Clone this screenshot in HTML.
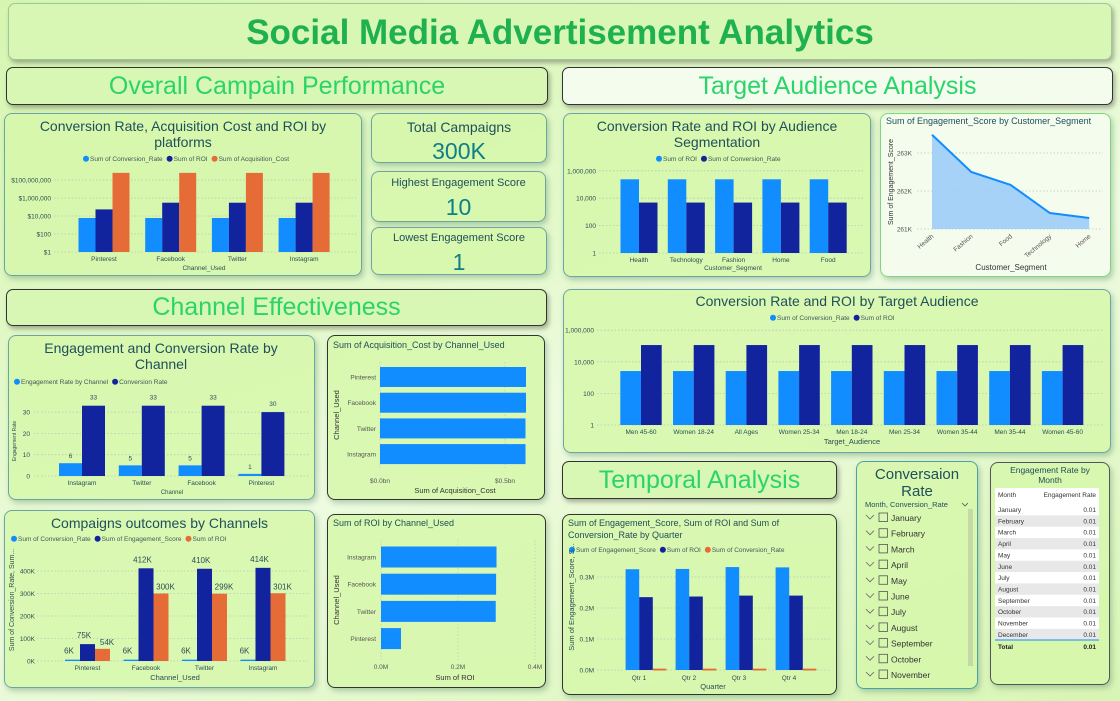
<!DOCTYPE html>
<html><head><meta charset="utf-8">
<style>
*{box-sizing:border-box;margin:0;padding:0}
body{width:1120px;height:701px;overflow:hidden;font-family:"Liberation Sans",sans-serif;background:linear-gradient(160deg,#d6f6b0 0%,#e4f9cc 40%,#eefbe0 55%,#d8f5b4 100%);position:relative}
.p{position:absolute;border:1px solid #6fa4a4;border-radius:8px;background:rgba(214,247,170,0.85);box-shadow:2px 3px 6px rgba(60,120,90,0.35)}
.hd{position:absolute;border:1.5px solid #333;border-radius:7px;background:#d8f6b4;color:#2bd46a;text-align:center;box-shadow:2px 3px 5px rgba(0,0,0,0.3)}
.t{position:absolute;color:#20505a;text-align:center;line-height:1.15}
.kv{color:#0f7f85;font-size:23px;display:block;margin-top:4px}
svg text{font-family:"Liberation Sans",sans-serif}
</style></head><body>
<div class="hd" style="left:8px;top:3px;width:1104px;height:57px;border-color:#9bc89b;border-width:1px;color:#1fb04f;font-size:35px;font-weight:bold;line-height:57px">Social Media Advertisement Analytics</div>
<div class="hd" style="left:6px;top:67px;width:542px;height:38px;font-size:25px;line-height:36px">Overall Campain Performance</div>
<div class="hd" style="left:562px;top:67px;width:551px;height:38px;font-size:25px;line-height:36px;background:#f4fcee">Target Audience Analysis</div>
<div class="hd" style="left:6px;top:289px;width:541px;height:37px;font-size:25px;line-height:35px">Channel Effectiveness</div>
<div class="hd" style="left:562px;top:461px;width:275px;height:38px;font-size:25px;line-height:36px">Temporal Analysis</div>

<div class="p" style="left:4px;top:113px;width:358px;height:163px"></div>
<div class="t" style="left:14px;top:118px;width:338px;font-size:14px">Conversion Rate, Acquisition Cost and ROI by platforms</div>

<div class="p" style="left:371px;top:113px;width:176px;height:50px"><div class="t" style="left:0;top:5px;width:174px;font-size:14px">Total Campaigns<span class="kv" style="margin-top:3px">300K</span></div></div>
<div class="p" style="left:371px;top:171px;width:175px;height:51px"><div class="t" style="left:0;top:5px;width:173px;font-size:11px">Highest Engagement Score<span class="kv">10</span></div></div>
<div class="p" style="left:371px;top:227px;width:176px;height:48px"><div class="t" style="left:0;top:4px;width:174px;font-size:11px">Lowest Engagement Score<span class="kv">1</span></div></div>

<div class="p" style="left:563px;top:113px;width:308px;height:164px"></div>
<div class="t" style="left:575px;top:118px;width:284px;font-size:14px">Conversion Rate and ROI by Audience Segmentation</div>

<div class="p" style="left:880px;top:113px;width:231px;height:164px;background:rgba(245,252,240,0.9);border-color:#7fd67f"></div>
<div class="t" style="left:886px;top:116px;width:225px;font-size:9px;text-align:left">Sum of Engagement_Score by Customer_Segment</div>

<div class="p" style="left:563px;top:289px;width:548px;height:164px"></div>
<div class="t" style="left:563px;top:293px;width:548px;font-size:14px">Conversion Rate and ROI by Target Audience</div>

<div class="p" style="left:8px;top:335px;width:307px;height:165px"></div>
<div class="t" style="left:25px;top:340px;width:272px;font-size:14px">Engagement and Conversion Rate by Channel</div>

<div class="p" style="left:327px;top:335px;width:218px;height:165px;border-color:#333"></div>
<div class="t" style="left:333px;top:340px;width:210px;font-size:9px;text-align:left">Sum of Acquisition_Cost by Channel_Used</div>

<div class="p" style="left:4px;top:510px;width:311px;height:178px"></div>
<div class="t" style="left:4px;top:515px;width:311px;font-size:14px">Compaigns outcomes by Channels</div>

<div class="p" style="left:327px;top:514px;width:219px;height:174px;border-color:#333"></div>
<div class="t" style="left:333px;top:518px;width:210px;font-size:9px;text-align:left">Sum of ROI by Channel_Used</div>

<div class="p" style="left:562px;top:514px;width:275px;height:181px;border-color:#333"></div>
<div class="t" style="left:568px;top:518px;width:230px;font-size:9px;text-align:left;line-height:1.3">Sum of Engagement_Score, Sum of ROI and Sum of Conversion_Rate by Quarter</div>

<div class="p" style="left:856px;top:461px;width:122px;height:228px;border-color:#4aa0a8"></div>
<div class="t" style="left:867px;top:466px;width:100px;font-size:15px">Conversaion Rate</div>
<div class="t" style="left:865px;top:501px;width:100px;font-size:7.5px;text-align:left">Month, Conversion_Rate</div>
<div style="position:absolute;left:968px;top:509px;width:5px;height:157px;background:#c5d9a8"></div>

<div class="p" style="left:990px;top:462px;width:120px;height:223px;border-color:#555"></div>
<div class="t" style="left:1000px;top:466px;width:100px;font-size:8.5px">Engagement Rate by Month</div>
<div style="position:absolute;left:995px;top:488px;width:104px;height:151px;background:#fff"></div>

<svg id="s" width="1120" height="701" style="position:absolute;left:0;top:0"></svg>

<script>
// ---- data ----
const platCats=["Pinterest","Facebook","Twitter","Instagram"];
const platConv=[6000,6000,6000,6000];
const platRoi=[54000,300000,299000,301000];
const platAcq=[620000000,620000000,615000000,615000000];
const platTicks=[1,100,10000,1000000,100000000];
const platTickLabels=["$1","$100","$10,000","$1,000,000","$100,000,000"];

const segCats=["Health","Technology","Fashion","Home","Food"];
const segRoi=[240000,240000,240000,240000,240000];
const segConv=[4800,4800,4800,4800,4800];
const segTicks=[1,100,10000,1000000];
const segTickLabels=["1","100","10,000","1,000,000"];

const areaCats=["Health","Fashion","Food","Technology","Home"];
const areaVals=[263.48,262.5,262.16,261.42,261.29];
const areaTicks=[261,262,263];
const areaTickLabels=["261K","262K","263K"];

const taCats=["Men 45-60","Women 18-24","All Ages","Women 25-34","Men 18-24","Men 25-34","Women 35-44","Men 35-44","Women 45-60"];
const taConv=[2600,2600,2600,2600,2600,2600,2600,2600,2600];
const taRoi=[115000,115000,115000,115000,115000,115000,115000,115000,115000];
const taTicks=[1,100,10000,1000000];
const taTickLabels=["1","100","10,000","1,000,000"];

const chCats=["Instagram","Twitter","Facebook","Pinterest"];
const chEng=[6,5,5,1];
const chConv=[33,33,33,30];
const chTicks=[0,10,20,30];

const acqCats=["Pinterest","Facebook","Twitter","Instagram"];
const acqVals=[0.584,0.584,0.582,0.582];
const acqTicks=[0,0.5];
const acqTickLabels=["$0.0bn","$0.5bn"];

const coCats=["Pinterest","Facebook","Twitter","Instagram"];
const coConv=[6,6,6,6];
const coEng=[75,412,410,414];
const coRoi=[54,300,299,301];
const coTicks=[0,100,200,300,400];

const roiCats=["Instagram","Facebook","Twitter","Pinterest"];
const roiVals=[0.300,0.299,0.298,0.052];
const roiTicks=[0,0.2,0.4];
const roiTickLabels=["0.0M","0.2M","0.4M"];

const qCats=["Qtr 1","Qtr 2","Qtr 3","Qtr 4"];
const qEng=[0.325,0.326,0.332,0.331];
const qRoi=[0.235,0.237,0.240,0.240];
const qConv=[0.006,0.006,0.006,0.006];
const qTicks=[0,0.1,0.2,0.3];
const qTickLabels=["0.0M","0.1M","0.2M","0.3M"];

const months=["January","February","March","April","May","June","July","August","September","October","November","December"];
const monthRates=[0.01,0.01,0.01,0.01,0.01,0.01,0.01,0.01,0.01,0.01,0.01,0.01];

const LB="#118dff",DB="#12239e",OR="#e66c37",TX="#2a4f55";
const S=document.getElementById('s');
const NS="http://www.w3.org/2000/svg";
function mk(tag,a){const e=document.createElementNS(NS,tag);for(const k in a)e.setAttribute(k,a[k]);S.appendChild(e);return e;}
function txt(x,y,s,size,fill,anchor,extra){const e=mk('text',Object.assign({x:x,y:y,'font-size':size,fill:fill||TX,'text-anchor':anchor||'middle'},extra||{}));e.textContent=s;return e;}
function grid(x1,x2,y){const g=mk('line',{x1:x1,x2:x2,y1:y,y2:y,stroke:'#b8c8b8','stroke-dasharray':'1.5,2','stroke-width':0.8});}
function legend(x,y,items,fs){let cx=x;fs=fs||6.5;items.forEach(it=>{const c=mk('circle',{cx:cx+3,cy:y-2.3,r:3,fill:it[1]});const t=txt(cx+7,y,it[0],fs,'#405a5a','start');cx+=7+t.getComputedTextLength()+4;});}
function logY(base,ppd){return v=>base-Math.log10(v)*ppd;}
function linY(base,pp){return v=>base-v*pp;}
function bar(x,y,w,h,fill,name){const r=mk('rect',{x:x,y:y,width:w,height:Math.max(h,0),fill:fill});return r;}

// ---- chart 1: platforms (log) ----
(function(){const B=252,y=logY(B,9),x0=54,x1=357;
legend(83,161,[["Sum of Conversion_Rate",LB],["Sum of ROI",DB],["Sum of Acquisition_Cost",OR]]);
platTicks.forEach((t,i)=>{grid(x0,x1,y(t));txt(x0-3,y(t)+2.5,platTickLabels[i],6.5,TX,'end');});
const cx=i=>104+i*66.7,bw=17;
platCats.forEach((c,i)=>{bar(cx(i)-bw*1.5,y(platConv[i]),bw,B-y(platConv[i]),LB,'bar-conversion-'+c);
bar(cx(i)-bw*0.5,y(platRoi[i]),bw,B-y(platRoi[i]),DB,'bar-roi-'+c);
bar(cx(i)+bw*0.5,y(platAcq[i]),bw,B-y(platAcq[i]),OR,'bar-acquisition-'+c);
txt(cx(i),261,c,6.5);});
txt(204,270,"Channel_Used",6.5);})();

// ---- chart 2: segmentation (log) ----
(function(){const B=253,y=logY(B,13.7),x0=599,x1=864;
legend(656,161,[["Sum of ROI",LB],["Sum of Conversion_Rate",DB]]);
segTicks.forEach((t,i)=>{grid(x0,x1,y(t));txt(596,y(t)+2.5,segTickLabels[i],6.5,TX,'end');});
const bw=18.5;
segCats.forEach((c,i)=>{const cx=639+i*47.3;bar(cx-bw,y(segRoi[i]),bw,B-y(segRoi[i]),LB,'bar-roi-'+c);
bar(cx,y(segConv[i]),bw,B-y(segConv[i]),DB,'bar-conversion-'+c);txt(cx,262,c,6.5);});
txt(733,270,"Customer_Segment",6.5);})();

// ---- chart 3: area ----
(function(){const B=229,y=v=>B-(v-261)*38,x0=917,x1=1103;
areaTicks.forEach((t,i)=>{grid(x0,x1,y(t));txt(912,y(t)+2.5,areaTickLabels[i],6.5,'#555','end');});
const px=i=>932+i*39.3;let d='';
areaVals.forEach((v,i)=>{d+=(i?'L':'M')+px(i)+','+y(v);});
const a=d+'L'+px(areaVals.length-1)+','+B+'L'+px(0)+','+B+'Z';
const ar=mk('path',{d:a,fill:'#9fcdf7','fill-opacity':0.9});
const ln=mk('path',{d:d,fill:'none',stroke:LB,'stroke-width':2});
areaCats.forEach((c,i)=>{const t=txt(px(i)+2,237,c,6.5,'#555','end',{transform:'rotate(-40 '+(px(i)+2)+' 237)'});});
txt(1011,270,"Customer_Segment",8,'#333');
const yt=txt(893,182,"Sum of Engagement_Score",7,'#333','middle',{transform:'rotate(-90 893 182)'});})();

// ---- chart 4: target audience (log) ----
(function(){const B=425,y=logY(B,15.8),x0=597,x1=1103;
legend(770,320,[["Sum of Conversion_Rate",LB],["Sum of ROI",DB]]);
taTicks.forEach((t,i)=>{grid(x0,x1,y(t));txt(594,y(t)+2.5,taTickLabels[i],6.5,TX,'end');});
const bw=20.7;
taCats.forEach((c,i)=>{const cx=641+i*52.7;bar(cx-bw,y(taConv[i]),bw,B-y(taConv[i]),LB,'bar-conversion-'+c);
bar(cx,y(taRoi[i]),bw,B-y(taRoi[i]),DB,'bar-roi-'+c);txt(cx,434,c,6.5);});
txt(852,444,"Target_Audience",7.5);})();

// ---- chart 5: engagement & conversion by channel ----
(function(){const B=476,y=linY(B,2.13),x0=34,x1=309;
legend(14,384,[["Engagement Rate by Channel",LB],["Conversion Rate",DB]]);
chTicks.forEach(t=>{grid(x0,x1,y(t));txt(30,y(t)+2.5,String(t),6.5,TX,'end');});
const bw=23;
chCats.forEach((c,i)=>{const cx=82+i*59.8;bar(cx-bw,y(chEng[i]),bw,B-y(chEng[i]),LB,'bar-engagement-'+c);
bar(cx,y(chConv[i]),bw,B-y(chConv[i]),DB,'bar-conversion-'+c);
txt(cx-bw/2,y(chEng[i])-5,String(chEng[i]),6.5);txt(cx+bw/2,y(chConv[i])-6,String(chConv[i]),6.5);txt(cx,485,c,6.5);});
txt(172,494,"Channel",6);
txt(16,441,"Engagement Rate",5,TX,'middle',{transform:'rotate(-90 16 441)'});})();

// ---- chart 6: acquisition cost (horizontal) ----
(function(){const x=v=>380+v*250;
acqTicks.forEach((t,i)=>{const l=mk('line',{x1:x(t),x2:x(t),y1:362,y2:468,stroke:'#c8d4c0','stroke-dasharray':'1.5,2'});txt(x(t),483,acqTickLabels[i],6.5,'#555');});
acqCats.forEach((c,i)=>{const cy=377+i*25.7;bar(380,cy-10,x(acqVals[i])-380,20,LB,'bar-acquisition-'+c);txt(376,cy+2.5,c,6.5,'#555','end');});
txt(455,493,"Sum of Acquisition_Cost",7.5,'#333');
txt(339,415,"Channel_Used",7.5,'#333','middle',{transform:'rotate(-90 339 415)'});})();

// ---- chart 7: campaign outcomes ----
(function(){const B=661,y=linY(B,0.225),x0=37,x1=309;
legend(11,541,[["Sum of Conversion_Rate",LB],["Sum of Engagement_Score",DB],["Sum of ROI",OR]]);
coTicks.forEach(t=>{grid(x0,x1,y(t));txt(35,y(t)+2.5,t+"K",6.5,TX,'end');});
const bw=15;
coCats.forEach((c,i)=>{const cx=87.5+i*58.5;
bar(cx-bw*1.5,y(coConv[i]),bw,B-y(coConv[i]),LB,'bar-conversion-'+c);
bar(cx-bw*0.5,y(coEng[i]),bw,B-y(coEng[i]),DB,'bar-engagement-'+c);
bar(cx+bw*0.5,y(coRoi[i]),bw,B-y(coRoi[i]),OR,'bar-roi-'+c);
txt(cx-bw*1.5+4,y(coConv[i])-6,coConv[i]+"K",8,TX);
txt(cx-bw*0.5+4,y(coEng[i])-6,coEng[i]+"K",8,TX);
txt(cx+bw*0.5+12,y(coRoi[i])-4,coRoi[i]+"K",8,TX);
txt(cx,670,c,6.5);});
txt(175,680,"Channel_Used",7.5);
txt(14,600,"Sum of Conversion_Rate, Sum...",7,TX,'middle',{transform:'rotate(-90 14 600)'});})();

// ---- chart 8: ROI by channel (horizontal) ----
(function(){const x=v=>381+v*385;
roiTicks.forEach((t,i)=>{const l=mk('line',{x1:x(t),x2:x(t),y1:540,y2:660,stroke:'#c8d4c0','stroke-dasharray':'1.5,2'});txt(x(t),669,roiTickLabels[i],6.5,'#555');});
roiCats.forEach((c,i)=>{const cy=557+i*27.2;bar(381,cy-10.5,x(roiVals[i])-381,21,LB,'bar-roi-'+c);txt(376,cy+2.5,c,6.5,'#555','end');});
txt(455,680,"Sum of ROI",7.5,'#333');
txt(339,600,"Channel_Used",7.5,'#333','middle',{transform:'rotate(-90 339 600)'});})();

// ---- chart 9: quarter ----
(function(){const B=670,y=linY(B,310),x0=597,x1=830;
legend(569,552,[["Sum of Engagement_Score",LB],["Sum of ROI",DB],["Sum of Conversion_Rate",OR]]);
qTicks.forEach((t,i)=>{grid(x0,x1,y(t));txt(594,y(t)+2.5,qTickLabels[i],6.5,TX,'end');});
const bw=13.6;
qCats.forEach((c,i)=>{const cx=646+i*50;
bar(cx-bw*1.5,y(qEng[i]),bw,B-y(qEng[i]),LB,'bar-engagement-'+c);
bar(cx-bw*0.5,y(qRoi[i]),bw,B-y(qRoi[i]),DB,'bar-roi-'+c);
bar(cx+bw*0.5,y(qConv[i])+0.5,bw,B-y(qConv[i]),OR,'bar-conversion-'+c);
txt(cx-7,680,c,6.5);});
txt(713,689,"Quarter",7.5);
txt(574,597,"Sum of Engagement_Score, S...",7.5,TX,'middle',{transform:'rotate(-90 574 597)'});})();

// ---- slicer ----
(function(){const dd=mk('path',{d:'M962,503l3,3l3,-3',fill:'none',stroke:'#555','stroke-width':0.8});
months.slice(0,11).forEach((m,i)=>{const yy=518+i*15.7;
const ch=mk('path',{d:'M866,'+(yy-3)+'l4,4l4,-4',fill:'none',stroke:'#666','stroke-width':0.8});
const cb=mk('rect',{x:879,y:yy-5,width:8.5,height:8.5,fill:'none',stroke:'#555','stroke-width':0.8});
const t=txt(891,yy+3,m,8.5,'#333','start');});})();

// ---- table ----
(function(){txt(998,497,"Month",6.5,'#333','start');txt(1096,497,"Engagement Rate",6.5,'#333','end');
months.forEach((m,i)=>{const yy=504+i*11.35;
if(i%2==1){const r=mk('rect',{x:995,y:yy,width:104,height:11.3,fill:'#e8e8e8'});}
const a=txt(998,yy+8,m,6.5,'#333','start');
const b=txt(1096,yy+8,monthRates[i].toFixed(2),6.5,'#333','end');});
const l=mk('line',{x1:995,x2:1099,y1:640,y2:640,stroke:LB,'stroke-width':1});
txt(998,649,"Total",6.5,'#222','start',{'font-weight':'bold'});txt(1096,649,"0.01",6.5,'#222','end',{'font-weight':'bold'});})();
</script>
</body></html>
